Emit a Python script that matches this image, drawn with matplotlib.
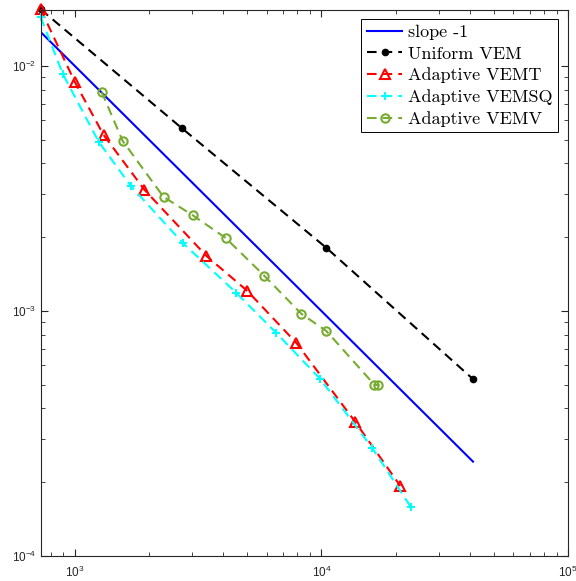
import numpy as np
import matplotlib
matplotlib.use('Agg')
import matplotlib.pyplot as plt
from matplotlib import ticker

# error vs number of dofs
N_slope = [728, 41200]
err_slope = [10.0 / 728, 10.0 / 41200]

N_uni = [728, 2712, 10470, 41200]
err_uni = [1.70e-2, 5.58e-3, 1.81e-3, 5.27e-4]

N_vemt = [728, 1000, 1310, 1918, 3420, 5010, 7920, 13740, 20900]
err_vemt = [1.70e-2, 8.61e-3, 5.22e-3, 3.12e-3, 1.676e-3, 1.207e-3, 7.40e-4, 3.52e-4, 1.93e-4]

N_vemsq = [728, 894, 1251, 1686, 2737, 4527, 6575, 9910, 16080, 23100]
err_vemsq = [1.58e-2, 9.28e-3, 4.90e-3, 3.24e-3, 1.897e-3, 1.183e-3, 8.12e-4, 5.27e-4, 2.76e-4, 1.58e-4]

N_vemv = [1286, 1564, 2291, 3004, 4087, 5877, 8298, 10480, 16400, 17000]
err_vemv = [7.83e-3, 4.94e-3, 2.92e-3, 2.46e-3, 1.987e-3, 1.390e-3, 9.73e-4, 8.28e-4, 5.00e-4, 4.98e-4]

labels = ['slope -1', 'Uniform VEM', 'Adaptive VEMT', 'Adaptive VEMSQ', 'Adaptive VEMV']

plt.rcParams['font.family'] = 'Liberation Sans'
plt.rcParams['mathtext.fontset'] = 'custom'
plt.rcParams['mathtext.rm'] = 'Liberation Sans'
plt.rcParams['mathtext.it'] = 'Liberation Sans:italic'
plt.rcParams['mathtext.bf'] = 'Liberation Sans:bold'

axcol = (0.15, 0.15, 0.15)
green = '#77AC30'
dash = (0, (4.6, 2.9))

fig = plt.figure(figsize=(5.76, 5.81), dpi=100)
ax = fig.add_axes([41/576, 25/581, 527/576, 546/581])

ax.loglog(N_slope, err_slope, '-', color='b', lw=1.5, label=labels[0])
ax.loglog(N_uni, err_uni, ls=dash, color='k', lw=1.5, marker='o', ms=4.5,
          mfc='k', label=labels[1], clip_on=False)
ax.loglog(N_vemt, err_vemt, ls=dash, color='r', lw=1.5, marker='^', ms=7,
          mfc='none', mew=1.5, label=labels[2], clip_on=False)
ax.loglog(N_vemsq, err_vemsq, ls=dash, color='cyan', lw=1.5, marker='+', ms=6,
          mew=1.5, label=labels[3], clip_on=False)
ax.loglog(N_vemv, err_vemv, ls=dash, color=green, lw=1.5, marker='o', ms=6,
          mfc='none', mew=1.5, label=labels[4], clip_on=False)

ax.set_xlim(730, 1e5)
ax.set_ylim(1e-4, 0.0169)

for s in ax.spines.values():
    s.set_color(axcol)
    s.set_linewidth(0.8)
ax.tick_params(which='both', direction='in', top=True, right=True,
               colors=axcol, labelsize=8.5)
ax.tick_params(axis='x', which='major', pad=6)
ax.tick_params(which='major', length=5, width=0.8)
ax.tick_params(which='minor', length=3, width=0.6)
ax.xaxis.set_minor_locator(ticker.LogLocator(base=10, subs=np.arange(2, 10), numticks=20))
ax.yaxis.set_minor_locator(ticker.LogLocator(base=10, subs=np.arange(2, 10), numticks=20))
ax.xaxis.set_minor_formatter(ticker.NullFormatter())
ax.yaxis.set_minor_formatter(ticker.NullFormatter())

leg = ax.legend(loc='upper right', bbox_to_anchor=(0.981, 0.9835), borderaxespad=0,
                prop={'family': 'cmr10', 'size': 13}, fancybox=False, framealpha=1,
                edgecolor='k', handlelength=1.95, handletextpad=0.33,
                labelspacing=0.33, borderpad=0.3)
leg.get_frame().set_linewidth(0.7)

fig.savefig('out.png', dpi=100)
